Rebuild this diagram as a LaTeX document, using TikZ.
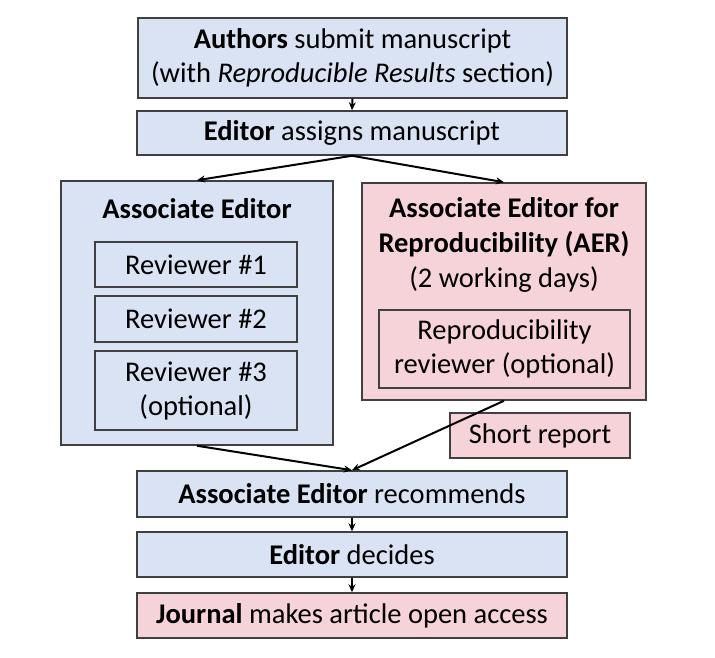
\documentclass[tikz,border=0pt]{standalone}
\usepackage{fontspec}
\setmainfont{Carlito}
\usetikzlibrary{arrows.meta}
\definecolor{boxblue}{RGB}{218,227,243}
\definecolor{boxpink}{RGB}{246,210,217}
\definecolor{edge}{RGB}{64,64,64}
\tikzset{
  base/.style={draw=edge, line width=1.5pt, inner sep=0pt, align=center,
    font=\fontsize{28.5}{34}\selectfont},
  bluebox/.style={base, fill=boxblue},
  pinkbox/.style={base, fill=boxpink},
  plain/.style={inner sep=0pt, align=center, font=\fontsize{28.5}{35}\selectfont},
  flow/.style={-{Stealth[length=8pt,width=7pt]}, line width=2pt, black},
}
\begin{document}
\begin{tikzpicture}[x=1pt,y=-1pt]
\useasboundingbox (0,0) rectangle (715,658);
\node[bluebox, minimum width=429pt, minimum height=80pt] (authors) at (352.5,58)
  {\textbf{Authors} submit manuscript\\(with \textit{Reproducible Results} section)};
\node[bluebox, minimum width=430pt, minimum height=44pt] (assign) at (352,133)
  {\textbf{Editor} assigns manuscript};
\node[bluebox, minimum width=272pt, minimum height=264pt] (ae) at (197,313) {};
\node[plain] (aetitle) at (197,209) {\textbf{Associate Editor}};
\node[bluebox, minimum width=202pt, minimum height=45pt] (r1) at (196,264.5) {Reviewer \#1};
\node[bluebox, minimum width=202pt, minimum height=46pt] (r2) at (196,319) {Reviewer \#2};
\node[bluebox, minimum width=202pt, minimum height=79pt] (r3) at (196,390.5) {Reviewer \#3\\(optional)};
\node[pinkbox, minimum width=284pt, minimum height=217pt] (aer) at (504,291.5) {};
\node[plain] (aertitle) at (504,245)
  {\textbf{Associate Editor for}\\\textbf{Reproducibility (AER)}\\(2 working days)};
\node[pinkbox, minimum width=251pt, minimum height=78pt] (rr) at (504.5,349)
  {Reproducibility\\reviewer (optional)};
\node[pinkbox, minimum width=180pt, minimum height=45pt] (short) at (540,435.5) {Short report};
\node[bluebox, minimum width=430pt, minimum height=46pt] (rec) at (352,494)
  {\textbf{Associate Editor} recommends};
\node[bluebox, minimum width=430pt, minimum height=45pt] (dec) at (352,554.5)
  {\textbf{Editor} decides};
\node[pinkbox, minimum width=430pt, minimum height=45pt] (jour) at (352,615.5)
  {\textbf{Journal} makes article open access};
\draw[flow] (authors.south) -- (assign.north);
\draw[flow] (assign.south) -- (ae.north);
\draw[flow] (assign.south) -- (aer.north);
\draw[flow] (ae.south) -- (rec.north);
\draw[flow] (aer.south) -- (rec.north);
\draw[flow] (rec.south) -- (dec.north);
\draw[flow] (dec.south) -- (jour.north);
\end{tikzpicture}
\end{document}
